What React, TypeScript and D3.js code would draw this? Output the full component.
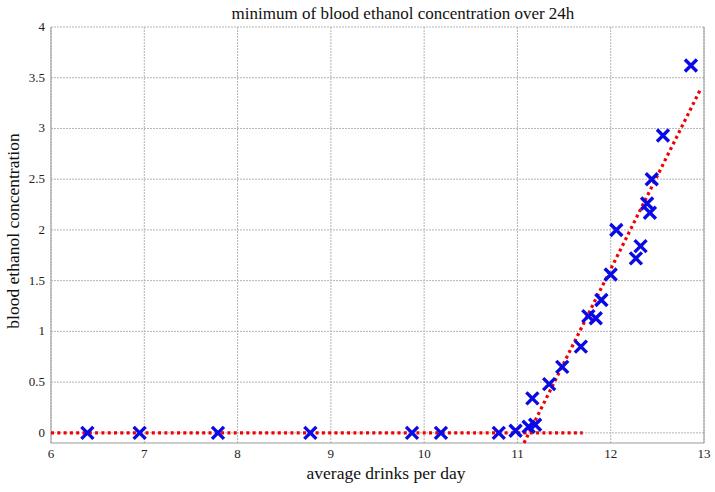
import { useEffect, useRef } from "react";
import * as d3 from "d3";

const W = 715;
const H = 492;

// measured points (average drinks per day, minimum blood ethanol concentration)
const drinks = [
  6.39, 6.95, 7.79, 8.78, 9.87, 10.18, 10.8, 10.98, 11.12, 11.19, 11.16, 11.34,
  11.48, 11.68, 11.76, 11.84, 11.9, 12.0, 12.06, 12.27, 12.32, 12.39, 12.42,
  12.44, 12.56, 12.86,
];
const concentration = [
  0, 0, 0, 0, 0, 0, 0, 0.02, 0.06, 0.08, 0.34, 0.48, 0.65, 0.85, 1.15, 1.13,
  1.31, 1.56, 2.0, 1.72, 1.84, 2.26, 2.17, 2.5, 2.93, 3.62,
];

// fitted piecewise lines
const flatLine: [number, number][] = [
  [6, 0],
  [11.7, 0],
];
const slopeLine: [number, number][] = [
  [11.07, -0.1],
  [12.97, 3.4],
];

const xTicks = [6, 7, 8, 9, 10, 11, 12, 13];
const yTicks = [0, 0.5, 1, 1.5, 2, 2.5, 3, 3.5, 4];

export default function App() {
  const svgRef = useRef<SVGSVGElement>(null);

  useEffect(() => {
    if (!svgRef.current) return;
    const svg = d3.select(svgRef.current);
    svg.selectAll("*").remove();

    const x = d3.scaleLinear().domain([6, 13]).range([51, 704]);
    const y = d3.scaleLinear().domain([-0.1, 4]).range([443, 27]);
    const font = "'Liberation Serif', 'Times New Roman', serif";

    const g = svg.append("g");

    // grid
    g.selectAll(".vgrid")
      .data(xTicks)
      .join("line")
      .attr("x1", (d) => x(d))
      .attr("x2", (d) => x(d))
      .attr("y1", y(4))
      .attr("y2", y(-0.1))
      .attr("stroke", "#b4b4b4")
      .attr("stroke-width", 1)
      .attr("stroke-dasharray", "2,1");
    g.selectAll(".hgrid")
      .data(yTicks)
      .join("line")
      .attr("x1", x(6))
      .attr("x2", x(13))
      .attr("y1", (d) => y(d))
      .attr("y2", (d) => y(d))
      .attr("stroke", "#b4b4b4")
      .attr("stroke-width", 1)
      .attr("stroke-dasharray", "2,1");

    // frame
    g.append("path")
      .attr("d", `M${x(6)},${y(4)}V${y(-0.1)}H${x(13)}V${y(4)}`)
      .attr("fill", "none")
      .attr("stroke", "#9a9a9a")
      .attr("stroke-width", 1);

    // tick labels
    g.selectAll(".xt")
      .data(xTicks)
      .join("text")
      .attr("x", (d) => x(d))
      .attr("y", 458)
      .attr("text-anchor", "middle")
      .attr("font-family", font)
      .attr("font-size", 13)
      .attr("fill", "#222")
      .text((d) => d);
    g.selectAll(".yt")
      .data(yTicks)
      .join("text")
      .attr("x", 45)
      .attr("y", (d) => y(d) + 4)
      .attr("text-anchor", "end")
      .attr("font-family", font)
      .attr("font-size", 13)
      .attr("fill", "#222")
      .text((d) => d);

    // fitted lines
    const line = d3
      .line<[number, number]>()
      .x((d) => x(d[0]))
      .y((d) => y(d[1]));
    [flatLine, slopeLine].forEach((pts) => {
      g.append("path")
        .attr("d", line(pts))
        .attr("fill", "none")
        .attr("stroke", "#f00000")
        .attr("stroke-width", 3.2)
        .attr("stroke-dasharray", "3,3.3");
    });

    // markers
    const s = 6;
    const pts = drinks.map((d, i) => [d, concentration[i]] as [number, number]);
    g.selectAll(".pt")
      .data(pts)
      .join("path")
      .attr("transform", (d) => `translate(${x(d[0])},${y(d[1])})`)
      .attr("d", `M${-s},${-s}L${s},${s}M${-s},${s}L${s},${-s}`)
      .attr("stroke", "#0a0ae6")
      .attr("stroke-width", 3.4)
      .attr("fill", "none");

    // titles
    svg
      .append("text")
      .attr("x", 403)
      .attr("y", 19)
      .attr("text-anchor", "middle")
      .attr("font-family", font)
      .attr("font-size", 17)
      .attr("fill", "#111")
      .text("minimum of blood ethanol concentration over 24h");
    svg
      .append("text")
      .attr("x", 386)
      .attr("y", 479)
      .attr("text-anchor", "middle")
      .attr("font-family", font)
      .attr("font-size", 17.5)
      .attr("fill", "#111")
      .text("average drinks per day");
    svg
      .append("text")
      .attr("transform", `translate(19,231) rotate(-90)`)
      .attr("text-anchor", "middle")
      .attr("font-family", font)
      .attr("font-size", 17.5)
      .attr("fill", "#111")
      .text("blood ethanol concentration");
  }, []);

  return (
    <svg
      ref={svgRef}
      width={W}
      height={H}
      style={{ position: "absolute", left: 0, top: 0, background: "#fff" }}
    />
  );
}
